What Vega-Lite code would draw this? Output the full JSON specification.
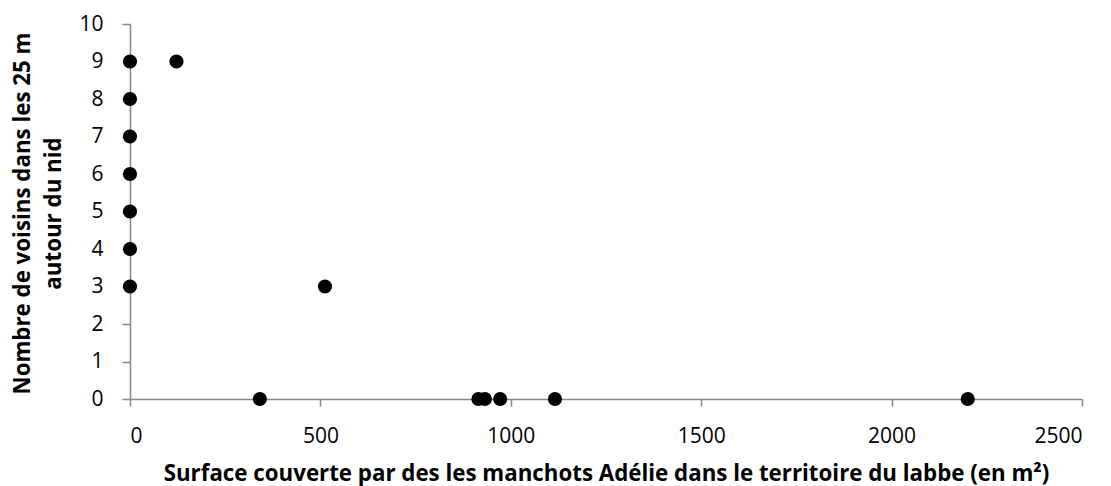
{
  "$schema": "https://vega.github.io/schema/vega-lite/v6.json",
  "width": 952,
  "height": 375,
  "autosize": {"type": "none"},
  "padding": {"left": 130, "top": 24, "right": 29, "bottom": 87},
  "background": "white",
  "config": {"view": {"stroke": null}, "font": "Open Sans"},
  "data": {"values": [
    {"x": 0, "y": 9}, {"x": 0, "y": 8}, {"x": 0, "y": 7}, {"x": 0, "y": 6},
    {"x": 0, "y": 5}, {"x": 0, "y": 4}, {"x": 0, "y": 3},
    {"x": 122, "y": 9}, {"x": 512, "y": 3}, {"x": 341, "y": 0},
    {"x": 915, "y": 0}, {"x": 932, "y": 0}, {"x": 972, "y": 0},
    {"x": 1116, "y": 0}, {"x": 2200, "y": 0}
  ]},
  "mark": {"type": "point", "filled": true, "color": "black", "opacity": 1, "size": 200, "shape": "circle"},
  "encoding": {
    "x": {"field": "x", "type": "quantitative",
      "scale": {"domain": [0, 2500], "nice": false, "zero": true},
      "axis": {"values": [0, 500, 1000, 1500, 2000, 2500], "format": "d", "grid": false,
        "domainColor": "#868686", "domainWidth": 1.5, "tickColor": "#868686", "tickWidth": 1.5, "tickSize": 7,
        "labelFontSize": 21, "labelColor": "black", "labelPadding": 19, "labelFont": "Open Sans",
        "title": "Surface couverte par des les manchots Adélie dans le territoire du labbe (en m²)",
        "titleFontSize": 22.3, "titleFontWeight": "bold", "titleColor": "black", "titleFont": "Open Sans",
        "titleY": 81, "titleBaseline": "alphabetic"}},
    "y": {"field": "y", "type": "quantitative",
      "scale": {"domain": [0, 10], "nice": false},
      "axis": {"values": [0, 1, 2, 3, 4, 5, 6, 7, 8, 9, 10], "format": "d", "grid": false,
        "domainColor": "#868686", "domainWidth": 1.5, "tickColor": "#868686", "tickWidth": 1.5, "tickSize": 8,
        "labelFontSize": 21, "labelColor": "black", "labelPadding": 19, "labelFont": "Open Sans",
        "title": ["Nombre de voisins dans les 25 m", "autour du nid"],
        "titleFontSize": 22.3, "titleFontWeight": "bold", "titleColor": "black", "titleFont": "Open Sans",
        "titleLineHeight": 31, "titleX": -96, "titleY": 189, "titleAlign": "center", "titleBaseline": "bottom"}}
  }
}
